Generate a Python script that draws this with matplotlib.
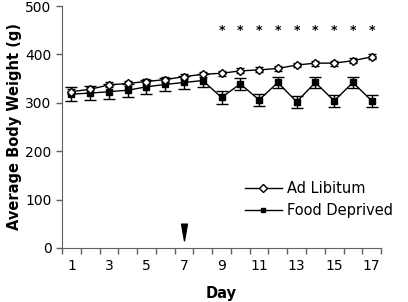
import matplotlib
matplotlib.use("Agg")
import matplotlib.pyplot as plt
from matplotlib.path import Path
from matplotlib.lines import Line2D
import numpy as np

# -----------------------------------------------------------------------------
days = np.arange(1, 18)
ad_lib = [323, 328, 337, 340, 344, 348, 354, 359, 361, 366, 368, 371, 378, 382, 382, 387, 395]
ad_lib_err = [5, 5, 5, 5, 5, 5, 5, 5, 5, 5, 5, 5, 5, 5, 5, 5, 5]
food_dep = [318, 320, 323, 326, 333, 338, 342, 346, 311, 339, 306, 342, 302, 342, 304, 342, 304]
food_dep_err = [14, 14, 15, 13, 14, 13, 13, 14, 13, 12, 13, 12, 13, 12, 13, 12, 13]
star_days = [9, 10, 11, 12, 13, 14, 15, 16, 17]
star_level = 450
arrow_day = 7

plt.rcParams['font.family'] = 'DejaVu Sans'
fig = plt.figure(figsize=(4.08, 3.02), dpi=100)
ax = fig.add_axes([0.152, 0.179, 0.782, 0.801])

ax.errorbar(days, ad_lib, yerr=ad_lib_err, color='black', lw=1, capsize=3,
            capthick=1, elinewidth=1, marker='D', markersize=4.5,
            markerfacecolor='white', markeredgecolor='black',
            markeredgewidth=1, zorder=3)
ax.errorbar(days, food_dep, yerr=food_dep_err, color='black', lw=1, capsize=4,
            capthick=1, elinewidth=1, marker='s', markersize=4,
            markerfacecolor='black', markeredgecolor='black', zorder=2)

for d in star_days:
    ax.text(d, star_level, '*', ha='center', va='center', fontsize=9,
            fontweight='bold')

# downward arrowhead marking day 7
tri = Path([(-0.35, 1), (0.35, 1), (0, -1), (-0.35, 1)],
           [Path.MOVETO, Path.LINETO, Path.LINETO, Path.CLOSEPOLY])
ax.plot([arrow_day], [32], marker=tri, markersize=12, color='black',
        linestyle='none', clip_on=False)

ax.set_xlim(0.5, 17.5)
ax.set_ylim(0, 500)
ax.set_xticks(np.arange(0.5, 18, 1))
ax.set_xticklabels([])
ax.set_xticks(days[::2], minor=True)
ax.set_xticklabels([str(d) for d in days[::2]], minor=True, fontsize=10)
ax.tick_params(axis='x', which='major', direction='out', length=4, width=1,
               color='#606060')
ax.tick_params(axis='x', which='minor', length=0, pad=8)
ax.set_yticks(np.arange(0, 501, 100))
ax.tick_params(axis='y', direction='out', length=4, width=1, labelsize=10,
               color='#606060')

ax.spines['top'].set_visible(False)
ax.spines['right'].set_visible(False)
ax.spines['left'].set_color('#606060')
ax.spines['bottom'].set_color('#606060')

ax.set_xlabel('Day', fontsize=10.5, fontweight='bold', labelpad=9)
ax.set_ylabel('Average Body Weight (g)', fontsize=10.5, fontweight='bold', labelpad=2)

handles = [
    Line2D([], [], color='black', lw=1, marker='D', markersize=4,
           markerfacecolor='white', markeredgecolor='black'),
    Line2D([], [], color='black', lw=1, marker='s', markersize=3.5,
           markerfacecolor='black'),
]
ax.legend(handles, ['Ad Libitum', 'Food Deprived'], loc='center left',
          bbox_to_anchor=(0.574, 0.20), frameon=False, fontsize=10.5,
          handlelength=2.5, handletextpad=0.4, labelspacing=0.5,
          borderpad=0, borderaxespad=0)

fig.savefig('out.png', dpi=100)
